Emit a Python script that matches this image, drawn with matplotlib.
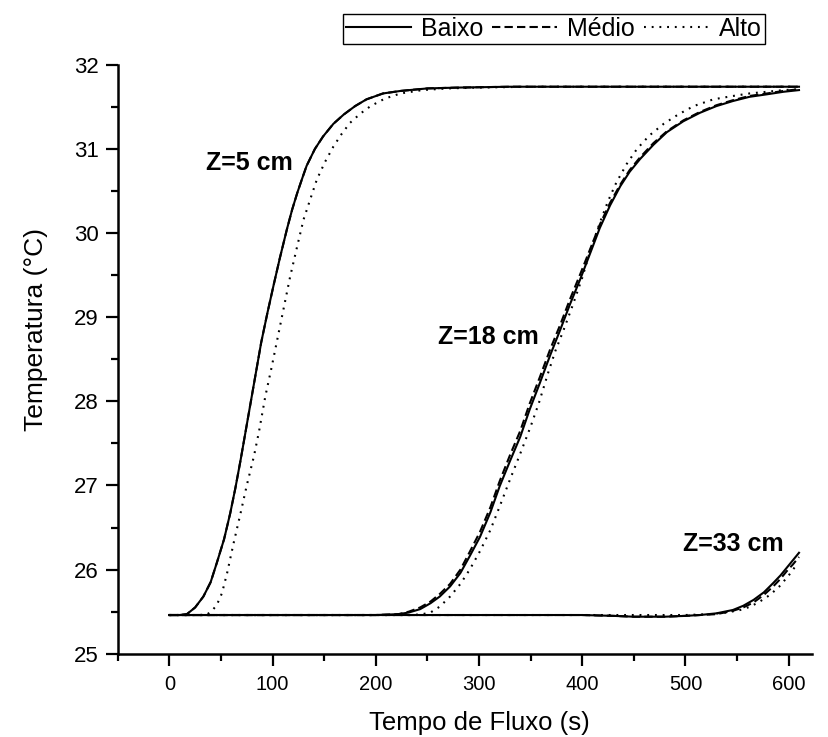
import matplotlib
matplotlib.use("Agg")
import matplotlib.pyplot as plt
from matplotlib.ticker import MultipleLocator

plt.rcParams['font.family'] = ['Liberation Sans', 'DejaVu Sans']

# Z = 5 cm
x_z5 = [0, 10, 17, 25, 33, 40, 46, 53, 59, 64, 69, 74, 79, 84, 89, 95, 101, 107, 114, 119, 124, 129, 133, 141, 149,
        159, 169, 180, 191, 207, 224, 250, 280, 330, 400, 500, 610]
baixo_z5 = [25.46, 25.46, 25.47, 25.55, 25.68, 25.85, 26.08, 26.36, 26.67, 26.97, 27.3, 27.65, 28.0, 28.35, 28.7,
            29.05, 29.38, 29.7, 30.05, 30.28, 30.48, 30.66, 30.8, 31.0, 31.15, 31.3, 31.41, 31.51, 31.59, 31.66,
            31.69, 31.72, 31.73, 31.74, 31.74, 31.74, 31.74]
medio_z5 = [25.46, 25.46, 25.47, 25.55, 25.68, 25.85, 26.08, 26.36, 26.67, 26.97, 27.3, 27.65, 28.0, 28.35, 28.7,
            29.05, 29.38, 29.7, 30.05, 30.28, 30.48, 30.66, 30.8, 31.0, 31.15, 31.3, 31.41, 31.51, 31.59, 31.66,
            31.69, 31.72, 31.73, 31.74, 31.74, 31.74, 31.74]
x_alto_z5 = [0, 20, 30, 37, 42, 46, 51, 56, 62, 69, 75, 82, 87, 93, 99, 106, 111, 117, 124, 130, 137, 143, 151, 159,
             167, 175, 185, 195, 209, 224, 245, 270, 300, 350, 420, 500, 610]
alto_z5 = [25.46, 25.46, 25.46, 25.47, 25.52, 25.58, 25.72, 25.96, 26.3, 26.67, 27.0, 27.35, 27.65, 28.06, 28.4,
           28.82, 29.12, 29.48, 29.85, 30.16, 30.42, 30.64, 30.85, 31.03, 31.18, 31.31, 31.42, 31.51, 31.6, 31.66,
           31.7, 31.72, 31.73, 31.74, 31.74, 31.74, 31.74]

# Z = 18 cm
x_z18 = [0, 100, 200, 222, 232, 243, 253, 262, 272, 282, 291, 301, 311, 320, 330, 340, 349, 359, 369, 379, 388, 398,
         408, 417, 427, 437, 446, 456, 469, 482, 498, 514, 530, 546, 562, 579, 595, 610]
baixo_z18 = [25.46, 25.46, 25.46, 25.47, 25.49, 25.53, 25.6, 25.68, 25.8, 25.96, 26.16, 26.39, 26.68, 26.99, 27.29,
             27.58, 27.9, 28.22, 28.55, 28.86, 29.15, 29.45, 29.77, 30.06, 30.33, 30.56, 30.73, 30.88, 31.05, 31.2,
             31.33, 31.43, 31.51, 31.57, 31.62, 31.65, 31.68, 31.7]
medio_z18 = [25.46, 25.46, 25.46, 25.47, 25.5, 25.55, 25.62, 25.71, 25.83, 26.0, 26.21, 26.45, 26.74, 27.05, 27.36,
             27.65, 27.97, 28.29, 28.62, 28.92, 29.21, 29.51, 29.82, 30.1, 30.36, 30.58, 30.75, 30.9, 31.07, 31.21,
             31.34, 31.44, 31.52, 31.58, 31.63, 31.66, 31.69, 31.71]
x_alto_z18 = [0, 100, 200, 235, 245, 253, 262, 272, 282, 291, 301, 311, 320, 330, 340, 350, 358, 367, 374, 382, 391,
              400, 408, 417, 425, 433, 443, 453, 465, 479, 493, 508, 527, 546, 562, 579, 595, 610]
alto_z18 = [25.46, 25.46, 25.46, 25.46, 25.47, 25.49, 25.56, 25.68, 25.83, 26.0, 26.22, 26.47, 26.75, 27.07, 27.38,
            27.7, 27.98, 28.34, 28.6, 28.85, 29.15, 29.47, 29.8, 30.12, 30.38, 30.6, 30.82, 31.0, 31.16, 31.3, 31.41,
            31.51, 31.59, 31.63, 31.66, 31.68, 31.7, 31.71]

# Z = 33 cm
x_z33 = [0, 100, 200, 300, 400, 430, 450, 480, 500, 514, 530, 546, 556, 566, 576, 585, 592, 598, 604, 610]
baixo_z33 = [25.46, 25.46, 25.46, 25.46, 25.46, 25.45, 25.44, 25.44, 25.45, 25.46, 25.48, 25.52, 25.57, 25.64, 25.73,
             25.84, 25.93, 26.02, 26.11, 26.2]
medio_z33 = [25.46, 25.46, 25.46, 25.46, 25.46, 25.45, 25.44, 25.44, 25.45, 25.46, 25.47, 25.51, 25.55, 25.61, 25.7,
             25.8, 25.89, 25.98, 26.06, 26.15]
x_alto_z33 = [0, 100, 200, 300, 400, 500, 523, 540, 553, 563, 572, 582, 591, 600, 609]
alto_z33 = [25.46, 25.46, 25.46, 25.46, 25.46, 25.46, 25.47, 25.49, 25.52, 25.56, 25.62, 25.7, 25.8, 25.93, 26.08]

labels = ['Baixo', 'Médio', 'Alto']
anotacoes = ['Z=5 cm', 'Z=18 cm', 'Z=33 cm']
pos_anotacoes = [(78, 30.83), (309, 28.77), (546, 26.3)]

lw = 1.5
estilo_solido = dict(color='black', lw=lw, linestyle='-')
estilo_tracejado = dict(color='black', lw=lw, linestyle=(0, (4.0, 2.0)))
estilo_pontilhado = dict(color='black', lw=lw, linestyle=(0, (0.9, 2.8)))

fig = plt.figure(figsize=(8.29, 7.37), dpi=100)
ax = fig.add_axes([0.142, 0.113, 0.838, 0.799])

# curvas
l1, = ax.plot(x_z5, baixo_z5, **estilo_solido)
l2, = ax.plot(x_z5, medio_z5, **estilo_tracejado)
l3, = ax.plot(x_alto_z5, alto_z5, **estilo_pontilhado)
ax.plot(x_z18, baixo_z18, **estilo_solido)
ax.plot(x_z18, medio_z18, **estilo_tracejado)
ax.plot(x_alto_z18, alto_z18, **estilo_pontilhado)
ax.plot(x_z33, baixo_z33, **estilo_solido)
ax.plot(x_z33, medio_z33, **estilo_tracejado)
ax.plot(x_alto_z33, alto_z33, **estilo_pontilhado)

for txt, (px, py) in zip(anotacoes, pos_anotacoes):
    ax.text(px, py, txt, fontsize=18, fontweight='bold', ha='center', va='center')

ax.set_xlim(-50, 623)
ax.set_ylim(25, 32)
ax.xaxis.set_major_locator(MultipleLocator(100))
ax.xaxis.set_minor_locator(MultipleLocator(50))
ax.yaxis.set_major_locator(MultipleLocator(1))
ax.yaxis.set_minor_locator(MultipleLocator(0.5))

for s in ['top', 'right']:
    ax.spines[s].set_visible(False)
for s in ['left', 'bottom']:
    ax.spines[s].set_linewidth(1.8)

ax.tick_params(which='major', direction='out', length=8.5, width=1.6, pad=7)
ax.tick_params(which='minor', direction='out', length=5, width=1.6)
ax.tick_params(axis='x', which='major', labelsize=14.5)
ax.tick_params(axis='y', which='major', labelsize=16, pad=5)

ax.set_xlabel('Tempo de Fluxo (s)', fontsize=18.5)
ax.set_ylabel('Temperatura (°C)', fontsize=19)
ax.xaxis.set_label_coords(0.52, -0.118, transform=ax.transAxes)
ax.xaxis.label.set_va('center')
ax.yaxis.set_label_coords(-0.1, 0.55, transform=ax.transAxes)

leg = fig.legend([l1, l2, l3], labels, loc='center', bbox_to_anchor=(0.668, 0.961), ncol=3, fontsize=18,
                 frameon=True, fancybox=False, edgecolor='black', framealpha=1, handlelength=2.6,
                 handletextpad=0.4, columnspacing=0.35, borderpad=0.12, borderaxespad=0)
leg.get_frame().set_linewidth(1.0)

fig.savefig('out.png', dpi=100)
